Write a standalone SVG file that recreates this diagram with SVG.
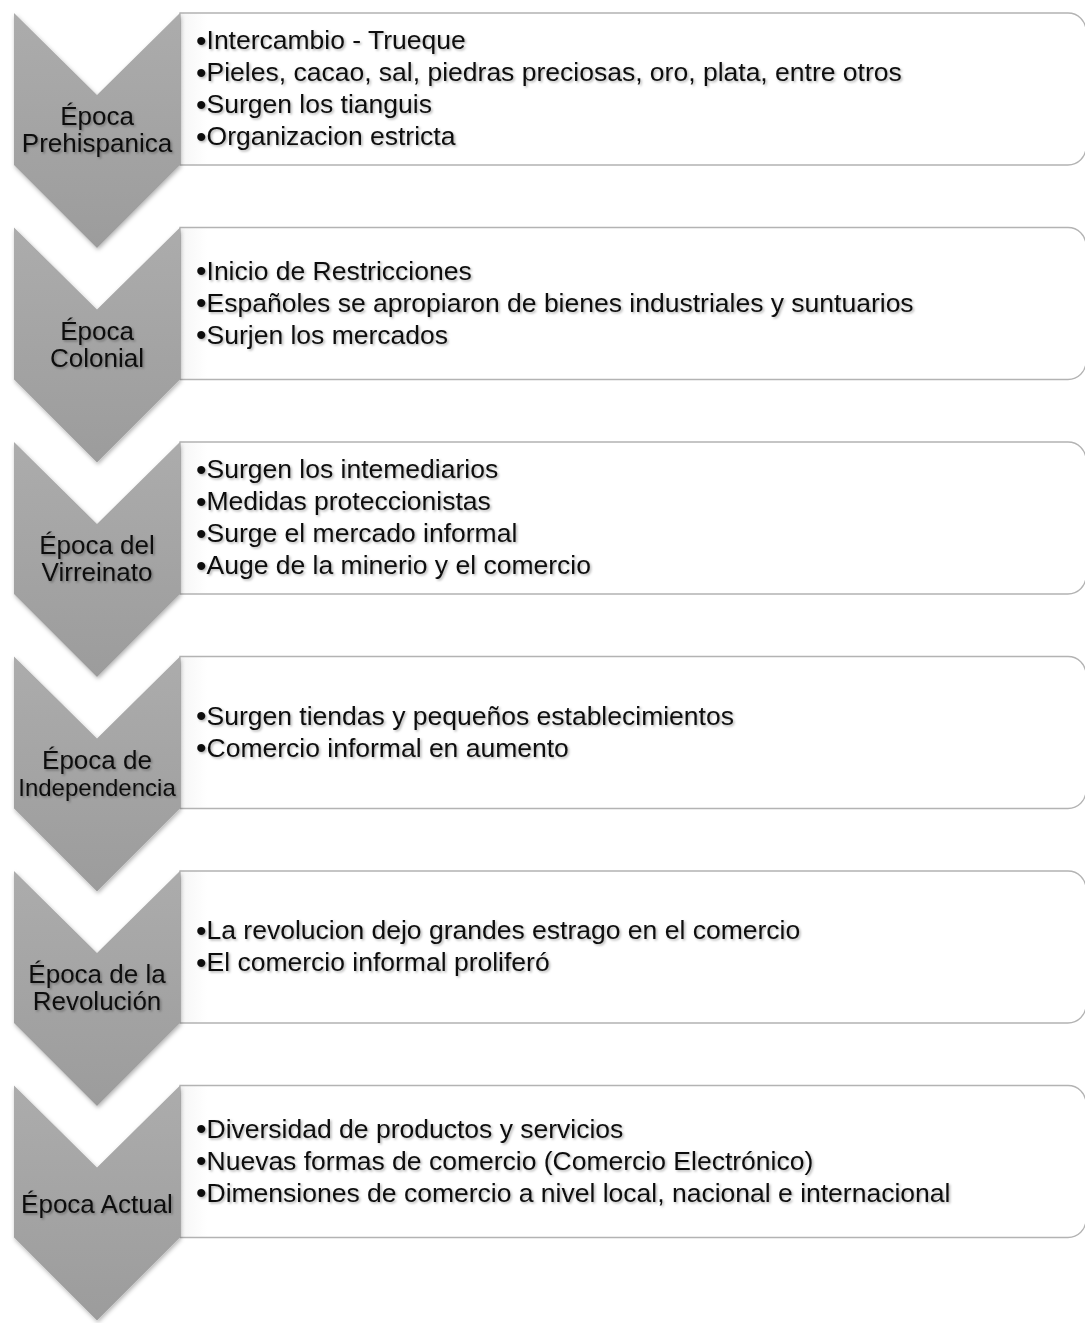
<svg xmlns="http://www.w3.org/2000/svg" width="1085" height="1323" viewBox="0 0 1085 1323">
<defs>
<linearGradient id="cg" x1="0" y1="0" x2="0" y2="1">
<stop offset="0" stop-color="#acacac"/>
<stop offset="1" stop-color="#9c9c9c"/>
</linearGradient>
<linearGradient id="bg" x1="0" y1="0" x2="1" y2="0">
<stop offset="0" stop-color="#f6f6f6"/>
<stop offset="0.03" stop-color="#ffffff"/>
<stop offset="1" stop-color="#ffffff"/>
</linearGradient>
<filter id="sh" x="-10%" y="-10%" width="120%" height="120%">
<feDropShadow dx="1" dy="2" stdDeviation="2" flood-color="#000" flood-opacity="0.3"/>
</filter>
<filter id="ts" x="-5%" y="-20%" width="110%" height="140%">
<feDropShadow dx="1.5" dy="1.5" stdDeviation="1" flood-color="#000" flood-opacity="0.3"/>
</filter>
<path id="chev" d="M14,0 L97,82 L180,0 L180,152 L97,235 L14,152 Z"/>
<path id="box" d="M180,0 H1068 A18,18 0 0 1 1086,18 V134 A18,18 0 0 1 1068,152 H180 Z"/>
</defs>
<style>
.chev{fill:url(#cg);filter:url(#sh)}
.box{fill:url(#bg);stroke:#b3b3b3;stroke-width:1.3}
.ct{font-family:"Liberation Sans",Arial,sans-serif;font-size:26px;fill:#111;text-anchor:middle;filter:url(#ts)}
.bt{font-family:"Liberation Sans",Arial,sans-serif;font-size:26.5px;fill:#111;filter:url(#ts)}
.b{font-size:30px}
</style>
<g id="connectors"/>
<g id="n1" transform="translate(0,13)">
<use href="#box" class="box"/>
<use href="#chev" class="chev"/>
<text class="ct" x="97" y="112">Época</text>
<text class="ct" x="97" y="139">Prehispanica</text>
<text class="bt" x="196" y="36"><tspan class="b" dy="1.5">•</tspan><tspan dy="-1.5">Intercambio - Trueque</tspan></text>
<text class="bt" x="196" y="68"><tspan class="b" dy="1.5">•</tspan><tspan dy="-1.5">Pieles, cacao, sal, piedras preciosas, oro, plata, entre otros</tspan></text>
<text class="bt" x="196" y="100"><tspan class="b" dy="1.5">•</tspan><tspan dy="-1.5">Surgen los tianguis</tspan></text>
<text class="bt" x="196" y="132"><tspan class="b" dy="1.5">•</tspan><tspan dy="-1.5">Organizacion estricta</tspan></text>
</g>
<g id="n2" transform="translate(0,227.5)">
<use href="#box" class="box"/>
<use href="#chev" class="chev"/>
<text class="ct" x="97" y="112">Época</text>
<text class="ct" x="97" y="139">Colonial</text>
<text class="bt" x="196" y="52"><tspan class="b" dy="1.5">•</tspan><tspan dy="-1.5">Inicio de Restricciones</tspan></text>
<text class="bt" x="196" y="84"><tspan class="b" dy="1.5">•</tspan><tspan dy="-1.5">Españoles se apropiaron de bienes industriales y suntuarios</tspan></text>
<text class="bt" x="196" y="116"><tspan class="b" dy="1.5">•</tspan><tspan dy="-1.5">Surjen los mercados</tspan></text>
</g>
<g id="n3" transform="translate(0,442)">
<use href="#box" class="box"/>
<use href="#chev" class="chev"/>
<text class="ct" x="97" y="112">Época del</text>
<text class="ct" x="97" y="139">Virreinato</text>
<text class="bt" x="196" y="36"><tspan class="b" dy="1.5">•</tspan><tspan dy="-1.5">Surgen los intemediarios</tspan></text>
<text class="bt" x="196" y="68"><tspan class="b" dy="1.5">•</tspan><tspan dy="-1.5">Medidas proteccionistas</tspan></text>
<text class="bt" x="196" y="100"><tspan class="b" dy="1.5">•</tspan><tspan dy="-1.5">Surge el mercado informal</tspan></text>
<text class="bt" x="196" y="132"><tspan class="b" dy="1.5">•</tspan><tspan dy="-1.5">Auge de la minerio y el comercio</tspan></text>
</g>
<g id="n4" transform="translate(0,656.5)">
<use href="#box" class="box"/>
<use href="#chev" class="chev"/>
<text class="ct" x="97" y="112">Época de</text>
<text class="ct" x="97" y="139" style="font-size:24px">Independencia</text>
<text class="bt" x="196" y="68"><tspan class="b" dy="1.5">•</tspan><tspan dy="-1.5">Surgen tiendas y pequeños establecimientos</tspan></text>
<text class="bt" x="196" y="100"><tspan class="b" dy="1.5">•</tspan><tspan dy="-1.5">Comercio informal en aumento</tspan></text>
</g>
<g id="n5" transform="translate(0,871)">
<use href="#box" class="box"/>
<use href="#chev" class="chev"/>
<text class="ct" x="97" y="112">Época de la</text>
<text class="ct" x="97" y="139">Revolución</text>
<text class="bt" x="196" y="68"><tspan class="b" dy="1.5">•</tspan><tspan dy="-1.5">La revolucion dejo grandes estrago en el comercio</tspan></text>
<text class="bt" x="196" y="100"><tspan class="b" dy="1.5">•</tspan><tspan dy="-1.5">El comercio informal proliferó</tspan></text>
</g>
<g id="n6" transform="translate(0,1085.5)">
<use href="#box" class="box"/>
<use href="#chev" class="chev"/>
<text class="ct" x="97" y="127">Época Actual</text>
<text class="bt" x="196" y="52"><tspan class="b" dy="1.5">•</tspan><tspan dy="-1.5">Diversidad de productos y servicios</tspan></text>
<text class="bt" x="196" y="84"><tspan class="b" dy="1.5">•</tspan><tspan dy="-1.5">Nuevas formas de comercio (Comercio Electrónico)</tspan></text>
<text class="bt" x="196" y="116"><tspan class="b" dy="1.5">•</tspan><tspan dy="-1.5">Dimensiones de comercio a nivel local, nacional e internacional</tspan></text>
</g>
</svg>
